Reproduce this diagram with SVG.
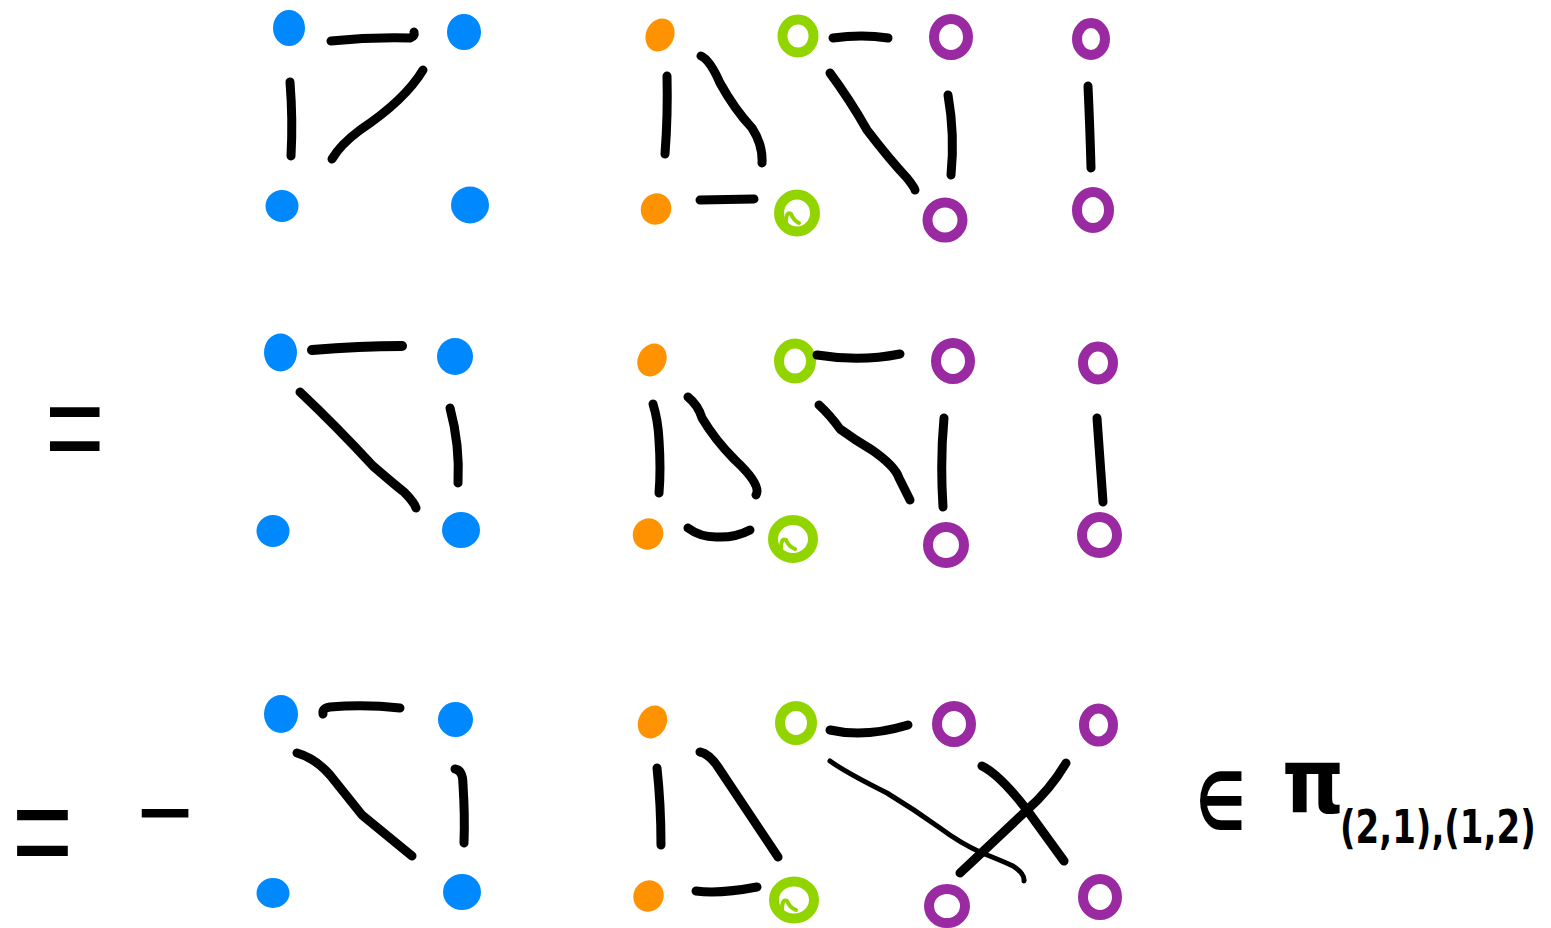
<svg xmlns="http://www.w3.org/2000/svg" width="1551" height="928" viewBox="0 0 1551 928">
<style>
.bg{fill:#ffffff}
.blue{fill:#0088fe}
.orange{fill:#ff9200}
.green{fill:none;stroke:#92d400;stroke-width:10}
.curl{fill:none;stroke:#92d400;stroke-width:4;stroke-linecap:round}
.purple{fill:none;stroke:#9a2aa2;stroke-width:10}
.e{fill:none;stroke:#000;stroke-linecap:round;stroke-linejoin:round;stroke-width:9}
.t{stroke-width:10}
.n{stroke-width:5}
.sym{font-family:"Liberation Sans",Arial,sans-serif;fill:#000}
.math{font-family:"DejaVu Sans","Liberation Sans",sans-serif;font-weight:bold;fill:#000}
</style>
<rect class="bg" x="0" y="0" width="1551" height="928"/>

<!-- Row 1 -->
<g id="r1-b1"><ellipse class="blue" cx="289" cy="28" rx="16" ry="18"/></g>
<g id="r1-b2"><ellipse class="blue" cx="464" cy="32" rx="17" ry="18"/></g>
<g id="r1-b3"><ellipse class="blue" cx="282" cy="206" rx="16.5" ry="16"/></g>
<g id="r1-b4"><ellipse class="blue" cx="470" cy="205" rx="19" ry="18.5"/></g>
<g id="r1-o1"><ellipse class="orange" cx="660" cy="35" rx="14" ry="17" transform="rotate(25 660 35)"/></g>
<g id="r1-o2"><ellipse class="orange" cx="656" cy="209" rx="15" ry="16" transform="rotate(30 656 209)"/></g>
<g id="r1-g1"><ellipse class="green" cx="798" cy="36" rx="15.5" ry="16.5"/></g>
<g id="r1-g2"><ellipse class="green" cx="797" cy="213" rx="18" ry="18.5"/><path class="curl" d="M786 222 Q786 211 791 214 Q794 221 799 223"/></g>
<g id="r1-p1"><ellipse class="purple" cx="951" cy="37" rx="17" ry="18"/></g>
<g id="r1-p2"><ellipse class="purple" cx="945" cy="220" rx="17.5" ry="17.5"/></g>
<g id="r1-p3"><ellipse class="purple" cx="1091" cy="39" rx="14" ry="16"/></g>
<g id="r1-p4"><ellipse class="purple" cx="1093" cy="210" rx="16" ry="18"/></g>

<!-- Row 2 -->
<g id="r2-b1"><ellipse class="blue" cx="280.5" cy="352.5" rx="16.5" ry="19"/></g>
<g id="r2-b2"><ellipse class="blue" cx="455" cy="356.5" rx="18" ry="18.5"/></g>
<g id="r2-b3"><ellipse class="blue" cx="273" cy="531" rx="16.5" ry="16"/></g>
<g id="r2-b4"><ellipse class="blue" cx="461" cy="530" rx="19" ry="18"/></g>
<g id="r2-o1"><ellipse class="orange" cx="652" cy="360" rx="14" ry="17" transform="rotate(28 652 360)"/></g>
<g id="r2-o2"><ellipse class="orange" cx="648" cy="534" rx="15" ry="16" transform="rotate(30 648 534)"/></g>
<g id="r2-g1"><ellipse class="green" cx="795" cy="361" rx="16" ry="17.5"/></g>
<g id="r2-g2"><ellipse class="green" cx="793" cy="539" rx="20" ry="19"/><path class="curl" d="M781 549 Q781 537 786 540 Q789 547 795 549"/></g>
<g id="r2-p1"><ellipse class="purple" cx="953" cy="361" rx="17" ry="18"/></g>
<g id="r2-p2"><ellipse class="purple" cx="946" cy="545" rx="18" ry="18"/></g>
<g id="r2-p3"><ellipse class="purple" cx="1098" cy="363" rx="15" ry="16.5"/></g>
<g id="r2-p4"><ellipse class="purple" cx="1099.5" cy="535" rx="17.5" ry="18"/></g>

<!-- Row 3 -->
<g id="r3-b1"><ellipse class="blue" cx="281" cy="714" rx="17" ry="19"/></g>
<g id="r3-b2"><ellipse class="blue" cx="455.5" cy="719.5" rx="17.5" ry="17.5"/></g>
<g id="r3-b3"><ellipse class="blue" cx="273" cy="893" rx="16.5" ry="15"/></g>
<g id="r3-b4"><ellipse class="blue" cx="462" cy="892" rx="19" ry="18"/></g>
<g id="r3-o1"><ellipse class="orange" cx="652.5" cy="722" rx="14" ry="17" transform="rotate(28 652.5 722)"/></g>
<g id="r3-o2"><ellipse class="orange" cx="648.5" cy="896" rx="15" ry="16" transform="rotate(30 648.5 896)"/></g>
<g id="r3-g1"><ellipse class="green" cx="796" cy="723" rx="16" ry="17"/></g>
<g id="r3-g2"><ellipse class="green" cx="794" cy="900" rx="20" ry="18.5"/><path class="curl" d="M782 910 Q782 898 787 901 Q790 908 796 910"/></g>
<g id="r3-p1"><ellipse class="purple" cx="954" cy="724" rx="17" ry="18"/></g>
<g id="r3-p2"><ellipse class="purple" cx="947" cy="906" rx="18" ry="17"/></g>
<g id="r3-p3"><ellipse class="purple" cx="1098.5" cy="725" rx="14.5" ry="16.5"/></g>
<g id="r3-p4"><ellipse class="purple" cx="1100" cy="897" rx="17" ry="18"/></g>

<g id="connectors">
  <!-- row 1 -->
  <path class="e" d="M331 41 Q370 37 410 38 Q415 36 414 32"/>
  <path class="e" d="M290 82 Q293 120 291 156"/>
  <path class="e" d="M423 70 Q405 100 360 130 Q340 145 332 159" stroke-width="8"/>
  <path class="e" d="M667 76 Q668 115 665 154"/>
  <path class="e" d="M701 56 Q710 60 720 83 Q735 110 752 128 Q763 145 762 163"/>
  <path class="e" d="M700 200 L754 199" stroke-width="7"/>
  <path class="e" d="M833 38 Q862 34 888 38"/>
  <path class="e" d="M830 73 Q850 100 867 130 Q890 160 907 178 Q915 188 915 190"/>
  <path class="e" d="M948 95 Q955 135 951 175"/>
  <path class="e" d="M1088 86 Q1090 130 1091 168" stroke-width="7"/>
  <!-- row 2 -->
  <path class="e t" d="M312 350 Q360 346 402 346"/>
  <path class="e" d="M300 392 Q335 425 373 466 Q395 485 404 492 Q414 502 416 508" stroke-width="8"/>
  <path class="e" d="M450 408 Q460 445 458 483"/>
  <path class="e" d="M653 404 Q658 420 659 440 Q661 470 659 493"/>
  <path class="e" d="M688 397 Q698 405 702 418 Q715 440 735 460 Q762 485 756 495"/>
  <path class="e" d="M688 528 Q700 537 716 537 Q735 538 750 530" stroke-width="7"/>
  <path class="e" d="M817 355 Q860 362 900 354" stroke-width="7"/>
  <path class="e" d="M819 405 Q830 415 840 429 Q855 440 872 450 Q895 466 899 478 L910 500" stroke-width="6"/>
  <path class="e" d="M944 418 Q940 460 943 507" stroke-width="6"/>
  <path class="e" d="M1097 418 Q1100 460 1103 502" stroke-width="7"/>
  <!-- row 3 -->
  <path class="e" d="M323 714 Q322 708 330 707 Q365 704 400 708"/>
  <path class="e" d="M297 753 Q315 758 330 775 Q350 800 362 815 Q385 834 412 856" stroke-width="11"/>
  <path class="e" d="M455 769 Q463 770 463 785 Q465 815 464 843"/>
  <path class="e" d="M657 768 Q661 805 661 845"/>
  <path class="e" d="M700 752 Q710 754 720 770 Q750 815 778 857"/>
  <path class="e" d="M696 891 Q720 894 757 887" stroke-width="7"/>
  <path class="e" d="M830 730 Q865 738 908 725" stroke-width="9"/>
  <path class="e n" d="M830 761 Q845 772 887 793 Q915 810 940 828 Q960 843 982 853 Q1000 860 1013 866 Q1025 874 1024 881"/>
  <path class="e" d="M982 766 Q1000 775 1027 810 Q1045 835 1064 861"/>
  <path class="e" d="M1066 763 Q1050 790 1027 810 Q990 845 960 873" stroke-width="7"/>
</g>

<g id="labels">
  <text class="sym" font-size="136" transform="translate(45 474) scale(0.75 1)">=</text>
  <text class="sym" font-size="143" transform="translate(12 880) scale(0.73 1)">=</text>
  <text class="sym" font-size="120" transform="translate(137 853) scale(0.8 1)">−</text>
  <text class="math" font-size="80" transform="translate(1196 830) scale(0.69 1)">∈</text>
  <text class="math" font-size="90" transform="translate(1282 813) scale(0.875 1)">π</text>
  <text class="math" font-size="46" transform="translate(1340 843) scale(0.74 1)">(2,1),(1,2)</text>
</g>
</svg>
